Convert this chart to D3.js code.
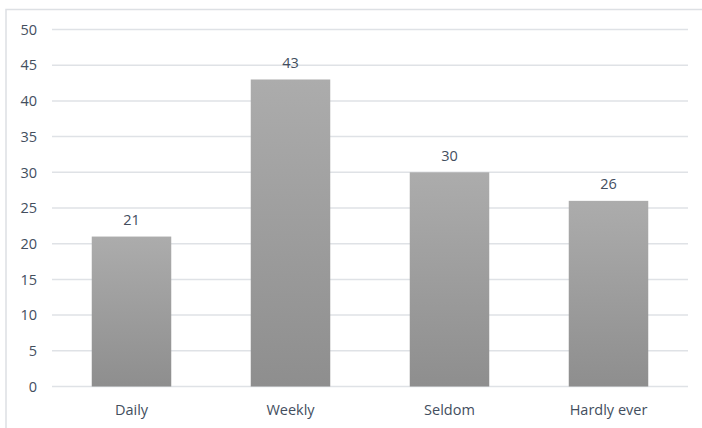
<!DOCTYPE html>
<html><head><meta charset="utf-8">
<script src="https://cdn.jsdelivr.net/npm/d3@7"></script>
<style>body{margin:0;background:#fff}svg{display:block}</style>
</head><body>
<script>
const categories = ["Daily","Weekly","Seldom","Hardly ever"];
const values = [21,43,30,26];
const yTicks = [0,5,10,15,20,25,30,35,40,45,50];

const W=702,H=428;
const svg=d3.select("body").append("svg").attr("width",W).attr("height",H);
const font="'Open Sans', 'Liberation Sans', sans-serif";
const txt="#434e5e";
const fs=14.5;

// frame
svg.append("rect").attr("x",6).attr("y",9.5).attr("width",W+10).attr("height",H+10)
  .attr("fill","none").attr("stroke","#dde0e4").attr("stroke-width",1.5);

const x=d3.scaleBand().domain(categories).range([52,688]).paddingInner(0.5).paddingOuter(0.25);
const y=d3.scaleLinear().domain([0,50]).range([386.5,29.5]);

const defs=svg.append("defs");
const g=defs.append("linearGradient").attr("id","bg").attr("x1",0).attr("y1",0).attr("x2",0).attr("y2",1);
g.append("stop").attr("offset","0%").attr("stop-color","#acacac");
g.append("stop").attr("offset","100%").attr("stop-color","#8e8e8e");

// grid
svg.append("g").selectAll("line").data(yTicks).join("line")
  .attr("x1",52).attr("x2",688).attr("y1",d=>y(d)).attr("y2",d=>y(d))
  .attr("stroke","#dfe2e6").attr("stroke-width",1.5);

// y labels
svg.append("g").selectAll("text").data(yTicks).join("text")
  .attr("x",37).attr("y",d=>y(d)).attr("dy","0.36em").attr("text-anchor","end")
  .attr("font-family",font).attr("font-size",fs).attr("fill",txt).text(d=>d);

// bars
svg.append("g").selectAll("rect").data(values).join("rect")
  .attr("x",(d,i)=>x(categories[i])).attr("width",x.bandwidth())
  .attr("y",d=>y(d)).attr("height",d=>y(0)-y(d)).attr("fill","url(#bg)");

// value labels
svg.append("g").selectAll("text").data(values).join("text")
  .attr("x",(d,i)=>x(categories[i])+x.bandwidth()/2).attr("y",d=>y(d)-17).attr("dy","0.36em")
  .attr("text-anchor","middle").attr("font-family",font).attr("font-size",fs).attr("fill",txt).text(d=>d);

// category labels
svg.append("g").selectAll("text").data(categories).join("text")
  .attr("x",d=>x(d)+x.bandwidth()/2).attr("y",410).attr("dy","0.36em")
  .attr("text-anchor","middle").attr("font-family",font).attr("font-size",fs).attr("fill",txt).text(d=>d);
</script>
</body></html>
